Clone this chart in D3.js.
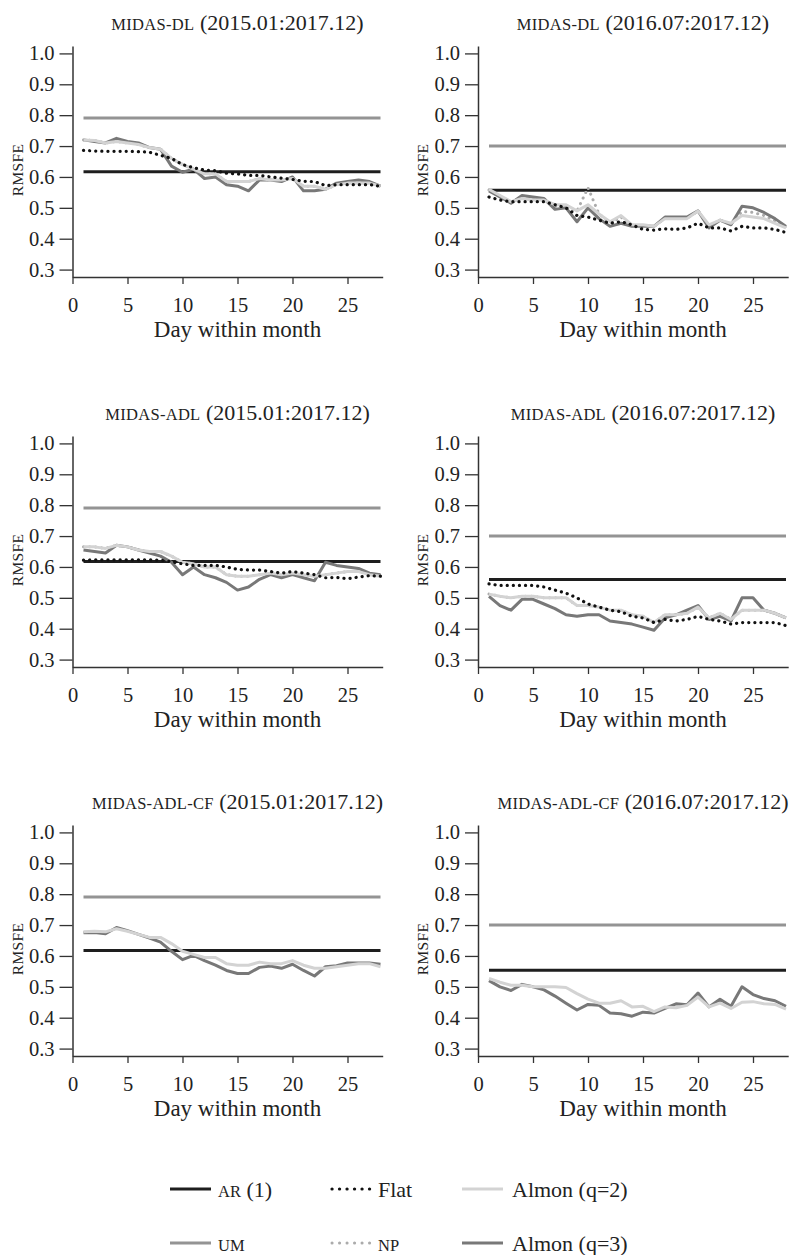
<!DOCTYPE html>
<html>
<head>
<meta charset="utf-8">
<script src="https://cdn.jsdelivr.net/npm/d3@7"></script>
<style>
  html, body { margin: 0; padding: 0; background: #fff; }
  svg { display: block; }
  text { font-family: "Liberation Serif", "Times New Roman", serif; fill: #222; }
</style>
</head>
<body>
<svg id="chart" width="791" height="1255"></svg>
<script>
// ---------------- DATA ----------------
const days = [1,2,3,4,5,6,7,8,9,10,11,12,13,14,15,16,17,18,19,20,21,22,23,24,25,26,27,28];
const xTickValues = [0,5,10,15,20,25];
const yTickValues = [0.3,0.4,0.5,0.6,0.7,0.8,0.9,1.0];
const yTickLabels = ["0.3","0.4","0.5","0.6","0.7","0.8","0.9","1.0"];

const panelModels = ["MIDAS-DL","MIDAS-DL","MIDAS-ADL","MIDAS-ADL","MIDAS-ADL-CF","MIDAS-ADL-CF"];
const panelPeriods = ["(2015.01:2017.12)","(2016.07:2017.12)","(2015.01:2017.12)","(2016.07:2017.12)","(2015.01:2017.12)","(2016.07:2017.12)"];

const arLevels = [0.617, 0.557, 0.618, 0.559, 0.618, 0.554];
const umLevels = [0.791, 0.700, 0.791, 0.700, 0.791, 0.700];

// Flat (dotted black)
const flatDL15  = [0.686,0.684,0.683,0.683,0.683,0.682,0.680,0.670,0.660,0.640,0.630,0.622,0.620,0.612,0.610,0.605,0.605,0.600,0.596,0.592,0.586,0.585,0.572,0.575,0.575,0.575,0.575,0.570];
const flatDL16  = [0.535,0.525,0.520,0.520,0.520,0.520,0.510,0.500,0.475,0.470,0.460,0.450,0.455,0.445,0.430,0.428,0.432,0.430,0.435,0.450,0.435,0.435,0.425,0.440,0.435,0.435,0.430,0.420];
const flatADL15 = [0.622,0.623,0.623,0.623,0.623,0.623,0.623,0.622,0.617,0.610,0.605,0.605,0.605,0.600,0.592,0.590,0.590,0.585,0.580,0.585,0.580,0.575,0.565,0.566,0.562,0.567,0.572,0.570];
const flatADL16 = [0.545,0.540,0.540,0.540,0.540,0.535,0.525,0.515,0.500,0.480,0.470,0.460,0.455,0.440,0.435,0.420,0.430,0.425,0.430,0.440,0.430,0.425,0.415,0.420,0.420,0.420,0.420,0.410];

// NP (dotted light grey) - mostly hidden under the Almon lines
const npDL15  = [0.720,0.718,0.710,0.715,0.710,0.705,0.695,0.690,0.660,0.640,0.625,0.610,0.610,0.585,0.585,0.585,0.595,0.590,0.590,0.595,0.570,0.570,0.560,0.575,0.580,0.580,0.580,0.570];
const npDL16  = [0.558,0.538,0.518,0.535,0.530,0.528,0.505,0.505,0.490,0.565,0.480,0.452,0.470,0.443,0.443,0.440,0.466,0.466,0.466,0.490,0.442,0.460,0.448,0.488,0.485,0.475,0.458,0.437];
const npADL15 = [0.665,0.665,0.660,0.670,0.665,0.655,0.650,0.650,0.635,0.615,0.610,0.600,0.600,0.575,0.570,0.570,0.575,0.580,0.575,0.580,0.575,0.570,0.575,0.580,0.585,0.585,0.575,0.570];
const npADL16 = [0.512,0.505,0.500,0.505,0.505,0.500,0.500,0.500,0.475,0.475,0.470,0.460,0.460,0.445,0.440,0.420,0.445,0.445,0.450,0.470,0.435,0.450,0.430,0.460,0.460,0.460,0.450,0.435];

// Almon (q=2) (light grey)
const almon2DL15   = [0.720,0.718,0.710,0.715,0.710,0.705,0.695,0.690,0.660,0.640,0.625,0.610,0.610,0.585,0.585,0.585,0.595,0.590,0.590,0.595,0.570,0.570,0.560,0.575,0.580,0.580,0.580,0.570];
const almon2DL16   = [0.560,0.540,0.520,0.530,0.525,0.525,0.510,0.510,0.490,0.510,0.480,0.455,0.475,0.445,0.445,0.440,0.465,0.465,0.465,0.490,0.445,0.460,0.450,0.475,0.470,0.465,0.450,0.435];
const almon2ADL15  = [0.665,0.665,0.660,0.670,0.665,0.655,0.650,0.650,0.635,0.615,0.610,0.600,0.600,0.575,0.570,0.570,0.575,0.580,0.575,0.580,0.575,0.570,0.575,0.580,0.585,0.585,0.575,0.570];
const almon2ADL16  = [0.512,0.505,0.500,0.505,0.505,0.500,0.500,0.500,0.475,0.475,0.470,0.460,0.460,0.445,0.440,0.420,0.445,0.445,0.450,0.470,0.435,0.450,0.430,0.460,0.460,0.460,0.450,0.435];
const almon2CF15   = [0.678,0.680,0.678,0.688,0.680,0.670,0.660,0.660,0.640,0.615,0.605,0.595,0.595,0.575,0.570,0.570,0.580,0.575,0.575,0.585,0.570,0.560,0.560,0.565,0.570,0.575,0.575,0.565];
const almon2CF16   = [0.527,0.515,0.505,0.505,0.500,0.500,0.500,0.498,0.478,0.460,0.447,0.447,0.455,0.435,0.437,0.420,0.435,0.432,0.440,0.467,0.435,0.447,0.430,0.450,0.452,0.445,0.443,0.428];

// Almon (q=3) (dark grey)
const almon3DL15   = [0.720,0.715,0.710,0.725,0.715,0.710,0.695,0.690,0.635,0.615,0.625,0.595,0.600,0.575,0.570,0.555,0.590,0.590,0.585,0.600,0.555,0.555,0.560,0.580,0.585,0.590,0.585,0.570];
const almon3DL16   = [0.555,0.535,0.515,0.540,0.535,0.530,0.495,0.500,0.455,0.500,0.465,0.440,0.450,0.440,0.440,0.440,0.470,0.470,0.470,0.490,0.435,0.460,0.445,0.505,0.500,0.485,0.465,0.440];
const almon3ADL15  = [0.655,0.650,0.645,0.670,0.665,0.655,0.645,0.635,0.615,0.575,0.600,0.575,0.565,0.550,0.525,0.535,0.560,0.575,0.565,0.575,0.565,0.555,0.615,0.605,0.600,0.595,0.580,0.575];
const almon3ADL16  = [0.505,0.475,0.460,0.495,0.495,0.480,0.465,0.445,0.440,0.445,0.445,0.425,0.420,0.415,0.405,0.395,0.435,0.445,0.460,0.475,0.430,0.440,0.425,0.500,0.500,0.460,0.450,0.435];
const almon3CF15   = [0.675,0.676,0.672,0.692,0.682,0.670,0.658,0.645,0.615,0.588,0.602,0.585,0.570,0.553,0.543,0.543,0.563,0.567,0.560,0.573,0.553,0.535,0.565,0.568,0.577,0.577,0.577,0.573];
const almon3CF16   = [0.520,0.500,0.488,0.508,0.500,0.490,0.470,0.447,0.425,0.443,0.440,0.415,0.413,0.405,0.418,0.415,0.430,0.445,0.442,0.480,0.435,0.460,0.437,0.500,0.475,0.462,0.455,0.437];

const flatByPanel   = [flatDL15, flatDL16, flatADL15, flatADL16, null, null];
const npByPanel     = [npDL15, npDL16, npADL15, npADL16, null, null];
const almon2ByPanel = [almon2DL15, almon2DL16, almon2ADL15, almon2ADL16, almon2CF15, almon2CF16];
const almon3ByPanel = [almon3DL15, almon3DL16, almon3ADL15, almon3ADL16, almon3CF15, almon3CF16];

const legendItems = [
  {key:"ar", caps:"AR", rest:" (1)"},
  {key:"flat", caps:"", rest:"Flat"},
  {key:"almon2", caps:"", rest:"Almon (q=2)"},
  {key:"um", caps:"UM", rest:""},
  {key:"np", caps:"NP", rest:""},
  {key:"almon3", caps:"", rest:"Almon (q=3)"}
];

// ---------------- STYLES ----------------
const styles = {
  ar:     {stroke:"#1e1e1e", width:3,   dash:null},
  um:     {stroke:"#949494", width:3,   dash:null},
  flat:   {stroke:"#111111", width:3.2, dash:"0.1 6"},
  np:     {stroke:"#ababab", width:3,   dash:"0.1 6"},
  almon2: {stroke:"#d3d3d3", width:3,   dash:null},
  almon3: {stroke:"#787878", width:3,   dash:null}
};

const svg = d3.select("#chart");
const FONT = '"Liberation Serif", "Times New Roman", serif';

const colX = [0, 405.5];
const rowY = [0, 390, 779];

function styleLine(sel, st) {
  sel.attr("fill","none")
     .attr("stroke", st.stroke)
     .attr("stroke-width", st.width)
     .attr("stroke-linejoin","round")
     .attr("stroke-linecap", st.dash ? "round" : "butt");
  if (st.dash) sel.attr("stroke-dasharray", st.dash);
}

for (let p = 0; p < 6; p++) {
  const ox = colX[p % 2];
  const oy = rowY[Math.floor(p / 2)];
  const g = svg.append("g");

  const x = d3.scaleLinear().domain([0, 28.2]).range([ox + 72.5, ox + 72.5 + 310.2]);
  const y = d3.scaleLinear().domain([0.276, 1.024]).range([oy + 277, oy + 46]);

  // Title
  const t = g.append("text")
    .attr("x", x(15)).attr("y", oy + 30)
    .attr("text-anchor","middle")
    .style("font-family", FONT);
  t.append("tspan").attr("font-size", 16.5).attr("letter-spacing", 0.3).text(panelModels[p]);
  t.append("tspan").attr("font-size", 22).text(" " + panelPeriods[p]);

  // Axes
  const yAxis = d3.axisLeft(y).tickValues(yTickValues)
    .tickFormat((d,i) => yTickLabels[i]).tickSize(13).tickSizeOuter(0).tickPadding(5);
  const ya = g.append("g").attr("transform", `translate(${ox + 72.5},0)`).call(yAxis);
  ya.selectAll("text").style("font-family", FONT).attr("font-size", 20.5).attr("fill","#222");
  ya.selectAll("line").attr("stroke","#333").attr("stroke-width",1.3);
  ya.select(".domain").attr("stroke","#333").attr("stroke-width",1.5);

  const xAxis = d3.axisBottom(x).tickValues(xTickValues).tickSize(7).tickSizeOuter(0).tickPadding(13);
  const xa = g.append("g").attr("transform", `translate(0,${oy + 277})`).call(xAxis);
  xa.selectAll("text").style("font-family", FONT).attr("font-size", 20.5).attr("fill","#222");
  xa.selectAll("line").attr("stroke","#333").attr("stroke-width",1.3);
  xa.select(".domain").attr("stroke","#333").attr("stroke-width",1.5);

  // Axis labels
  g.append("text")
    .attr("x", x(15)).attr("y", oy + 336.5)
    .attr("text-anchor","middle")
    .attr("font-size", 23)
    .style("font-family", FONT)
    .text("Day within month");

  g.append("text")
    .attr("transform", `translate(${ox + 22.5},${oy + 170}) rotate(-90)`)
    .attr("text-anchor","middle")
    .attr("font-size", 15.5)
    .attr("letter-spacing", 0.3)
    .style("font-family", FONT)
    .text("RMSFE");

  const line = d3.line().x(d => x(d[0])).y(d => y(d[1]));

  // UM & AR horizontal levels
  g.append("path").datum([[days[0], umLevels[p]], [days[days.length-1], umLevels[p]]])
    .attr("d", line).call(styleLine, styles.um);
  g.append("path").datum([[days[0], arLevels[p]], [days[days.length-1], arLevels[p]]])
    .attr("d", line).call(styleLine, styles.ar);

  const series = [
    {data: npByPanel[p], st: styles.np},
    {data: almon3ByPanel[p], st: styles.almon3},
    {data: almon2ByPanel[p], st: styles.almon2},
    {data: flatByPanel[p], st: styles.flat}
  ];
  series.forEach(s => {
    if (!s.data) return;
    g.append("path").datum(days.map((d,i) => [d, s.data[i]]))
      .attr("d", line).call(styleLine, s.st);
  });
}

// ---------------- LEGEND ----------------
const legCols = [{lx:170, tx:218}, {lx:332, tx:378}, {lx:462, tx:512}];
const legRows = [1189, 1243];
legendItems.forEach((it, i) => {
  const c = legCols[i % 3];
  const ry = legRows[Math.floor(i / 3)];
  const dotted = (it.key === "flat" || it.key === "np");
  const len = dotted ? 38 : 41;
  svg.append("path").attr("d", d3.line()([[c.lx, ry], [c.lx + len, ry]]))
    .call(styleLine, dotted ? Object.assign({}, styles[it.key], {dash:"0.1 7.4"}) : styles[it.key]);
  const t = svg.append("text").attr("x", c.tx).attr("y", ry + 7.5).style("font-family", FONT);
  if (it.caps) t.append("tspan").attr("font-size", 16.5).text(it.caps);
  if (it.rest) t.append("tspan").attr("font-size", 22).text(it.rest);
});
</script>
</body>
</html>
